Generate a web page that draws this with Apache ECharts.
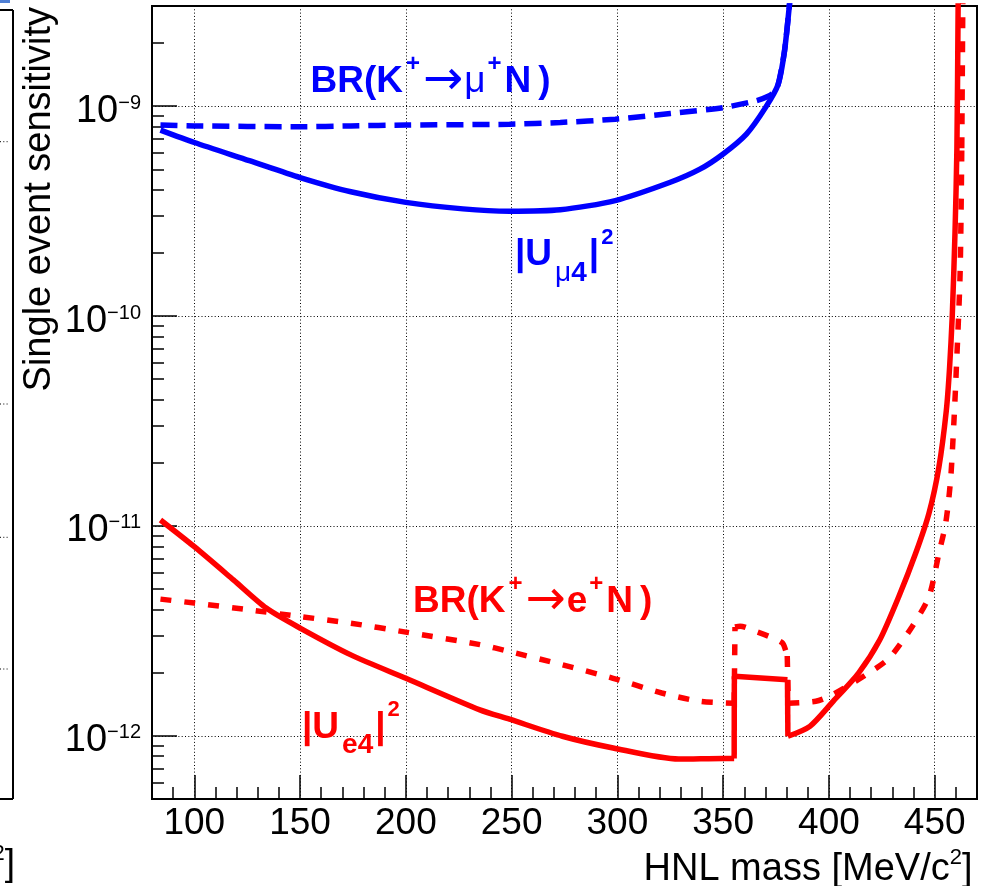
<!DOCTYPE html>
<html><head><meta charset="utf-8">
<script src="https://cdn.jsdelivr.net/npm/echarts@6/dist/echarts.min.js"></script>
<style>html,body{margin:0;padding:0;background:#fff}#c{width:981px;height:886px}</style>
</head><body><div id="c"></div>
<script>
// ---------- data (HNL mass in MeV/c^2, single event sensitivity) ----------
const muMassU = [84, 100, 126, 150, 174, 200, 227, 249, 273, 299, 325, 339, 350, 361, 370, 376, 379, 381.2, 382];
const muU     = [7.69e-10, 6.71e-10, 5.50e-10, 4.57e-10, 3.91e-10, 3.48e-10, 3.24e-10, 3.16e-10, 3.21e-10, 3.55e-10, 4.34e-10, 5.01e-10, 5.92e-10, 7.36e-10, 9.84e-10, 1.27e-9, 1.83e-9, 2.94e-9, 3.6e-9];

const muMassBR = [84, 100, 150, 174, 200, 249, 273, 299, 325, 350, 365.5, 371.8, 374, 376, 379, 381.2, 382];
const muBR     = [8.13e-10, 8.05e-10, 7.98e-10, 8.05e-10, 8.13e-10, 8.20e-10, 8.36e-10, 8.67e-10, 9.23e-10, 9.84e-10, 1.06e-9, 1.12e-9, 1.17e-9, 1.27e-9, 1.83e-9, 2.94e-9, 3.6e-9];

const eMassU = [84, 100, 118.5, 134, 150, 174, 200, 235, 249, 274, 298, 329, 350, 355.2, 355.3, 380.4, 380.6, 391, 402, 414, 424, 433, 441, 447.3, 452, 455.5, 457, 458.3, 459.6, 460.5, 461.1];
const eU     = [1.067e-11, 7.96e-12, 5.53e-12, 4.06e-12, 3.26e-12, 2.43e-12, 1.88e-12, 1.33e-12, 1.20e-12, 9.95e-13, 8.75e-13, 7.75e-13, 7.8e-13, 7.8e-13, 1.92e-12, 1.85e-12, 9.95e-13, 1.11e-12, 1.46e-12, 1.99e-12, 2.86e-12, 4.60e-12, 7.41e-12, 1.15e-11, 1.91e-11, 3.55e-11, 5.6e-11, 1.0e-10, 2.5e-10, 6.3e-10, 3.2e-9];

const eMassBR = [84, 100, 126, 150, 174, 200, 235, 249, 274, 298, 321, 339, 355.2, 355.6, 358, 365.5, 371.8, 378, 380.3, 380.8, 393.8, 401.7, 417.4, 428.4, 439.4, 447.3, 452, 455.2, 457.5, 459.1, 460, 462, 462.8, 463.3];
const eBR     = [4.48e-12, 4.29e-12, 3.98e-12, 3.70e-12, 3.44e-12, 3.12e-12, 2.72e-12, 2.52e-12, 2.18e-12, 1.88e-12, 1.60e-12, 1.46e-12, 1.43e-12, 3.3e-12, 3.33e-12, 3.14e-12, 2.97e-12, 2.77e-12, 2.40e-12, 1.43e-12, 1.46e-12, 1.57e-12, 1.95e-12, 2.34e-12, 3.32e-12, 4.60e-12, 7.41e-12, 1.03e-11, 1.65e-11, 3.16e-11, 4.94e-11, 1.58e-10, 6.3e-10, 3.2e-9];

const xTickLabels = [100, 150, 200, 250, 300, 350, 400, 450];
const yMin = 5e-13, yMax = 3e-9, xMin = 80, xMax = 470;

// ---------- chart ----------
const FONT = "'Liberation Sans', Arial, Helvetica, sans-serif";
const ARROW_FONT = "'DejaVu Sans', sans-serif";
const BLUE = '#0000ff', RED = '#ff0000';
const xMinor = []; for (let v = xMin; v <= xMax; v += 10) xMinor.push(v);
const yMinor = [];
for (let d = -13; d <= -9; d++) for (let k = 2; k <= 9; k++) yMinor.push(Math.log10(k) + d);
const lyMin = Math.log10(yMin), lyMax = Math.log10(yMax);

// split a curve into smooth pieces and straight vertical jumps (steps)
function pieces(xs, ys) {
  const out = []; let cur = [[xs[0], ys[0]]];
  for (let i = 1; i < xs.length; i++) {
    if (xs[i] - xs[i - 1] < 0.55) {
      out.push({smooth: true, data: cur});
      out.push({smooth: false, data: [[xs[i - 1], ys[i - 1]], [xs[i], ys[i]]]});
      cur = [[xs[i], ys[i]]];
    } else cur.push([xs[i], ys[i]]);
  }
  out.push({smooth: true, data: cur});
  return out.filter(p => p.data.length > 1);
}
function curveSeries(name, xs, ys, color, dash) {
  return pieces(xs, ys).map(p => ({
    type: 'line', name: name, xAxisIndex: 0, yAxisIndex: 0, data: p.data, symbol: 'none', clip: true,
    smooth: p.smooth ? 0.25 : false,
    lineStyle: {color: color, width: 5.5, type: dash || 'solid'}, itemStyle: {color: color}
  }));
}

function f(size, weight, color, extra) {
  return Object.assign({fontFamily: FONT, fontSize: size, fontWeight: weight || 'normal', fill: color}, extra || {});
}
function richText(x, y, text, color, size, align, lineH, rich, extra) {
  return {type: 'text', x: x, y: y, z: 100, style: Object.assign({
    text: text, fontFamily: FONT, fontSize: size, fontWeight: 'bold', fill: color,
    lineHeight: lineH, align: align || 'left', verticalAlign: 'middle', rich: rich
  }, extra || {})};
}
function brRich(color, lep) {
  return {
    p: f(24, 'bold', color, {verticalAlign: 'top', padding: [1, 2, 0, 3]}),
    q: f(24, 'bold', color, {verticalAlign: 'top', padding: [1, 3, 0, 2]}),
    a: {fontFamily: ARROW_FONT, fontSize: 48, fontWeight: 'normal', fill: color, lineHeight: 44, padding: [0, 1, 0, 1]},
    l: f(37, lep === 'mu' ? 'normal' : 'bold', color),
    r: f(37, 'bold', color, {padding: [0, 0, 0, 7]})
  };
}
function uRich(color) {
  return {
    b: f(28, 'normal', color, {verticalAlign: 'bottom', padding: [0, 0, 0, 3]}),
    c: f(28, 'bold', color, {verticalAlign: 'bottom'}),
    s: f(37, 'bold', color, {padding: [0, 0, 0, 2]}),
    p: f(22, 'bold', color, {verticalAlign: 'top', padding: [3.5, 0, 0, 2]})
  };
}

const chart = echarts.init(document.getElementById('c'));
chart.setOption({
  animation: false,
  backgroundColor: '#fff',
  grid: {left: 152, right: 4, top: 6, bottom: 87, show: true, borderColor: '#000', borderWidth: 2, backgroundColor: 'transparent'},
  xAxis: [{
    type: 'value', min: xMin, max: xMax, position: 'bottom',
    axisLine: {show: true, lineStyle: {color: '#000', width: 2}},
    axisTick: {show: true, inside: true, length: 24, lineStyle: {color: '#000', width: 1.5}, customValues: xTickLabels},
    axisLabel: {customValues: xTickLabels, fontFamily: FONT, fontSize: 37, color: '#000', margin: 5, lineHeight: 40},
    splitLine: {show: true, lineStyle: {color: '#000', width: 1, type: [1, 2.3]}}
  }, {
    type: 'value', min: xMin, max: xMax, position: 'bottom',
    axisLine: {show: false}, axisLabel: {show: false}, splitLine: {show: false},
    axisTick: {show: true, inside: true, length: 12, lineStyle: {color: '#000', width: 1.5}, customValues: xMinor}
  }],
  yAxis: [{
    type: 'log', min: yMin, max: yMax, position: 'left', logBase: 10,
    axisLine: {show: true, lineStyle: {color: '#000', width: 2}},
    axisTick: {show: true, inside: true, length: 25, lineStyle: {color: '#000', width: 1.5}},
    axisLabel: {
      showMinLabel: false, showMaxLabel: false, margin: 11,
      fontFamily: FONT, fontSize: 38, color: '#000', lineHeight: 44, padding: [10, 0, 0, 0],
      formatter: v => '10{e|\u2212' + Math.abs(Math.round(Math.log10(v))) + '}',
      rich: {e: {fontFamily: FONT, fontSize: 20, color: '#000', lineHeight: 27, verticalAlign: 'top', padding: [4, 0, 0, 0]}}
    },
    splitLine: {show: true, lineStyle: {color: '#000', width: 1, type: [1, 2.3]}}
  }, {
    type: 'value', min: lyMin, max: lyMax, position: 'left',
    axisLine: {show: false}, axisLabel: {show: false}, splitLine: {show: false},
    axisTick: {show: true, inside: true, length: 12, lineStyle: {color: '#000', width: 1.5}, customValues: yMinor}
  }],
  series: [].concat(
    curveSeries('|U_e4|^2', eMassU, eU, RED),
    curveSeries('BR(K+ -> e+ N)', eMassBR, eBR, RED, [11, 13]),
    curveSeries('|U_mu4|^2', muMassU, muU, BLUE),
    curveSeries('BR(K+ -> mu+ N)', muMassBR, muBR, BLUE, [17, 9])
  ),
  graphic: [
    // axis titles
    {type: 'text', x: 40, y: 7, rotation: Math.PI / 2, z: 100,
     style: {text: 'Single event sensitivity', fontFamily: FONT, fontSize: 38, fill: '#000', align: 'right', verticalAlign: 'middle'}},
    richText(972.5, 869.3, 'HNL mass [MeV/c{s|2}]', '#000', 38, 'right', 44,
      {s: f(22, 'normal', '#000', {verticalAlign: 'top'})}, {fontWeight: 'normal'}),
    // curve labels
    richText(310.5, 81.5, 'BR(K{p|+}{a|\u2192}{l|\u03bc}{q|+}N{r|)}', BLUE, 37, 'left', 60, brRich(BLUE, 'mu')),
    richText(413, 601.7, 'BR(K{p|+}{a|\u2192}{l|e}{q|+}N{r|)}', RED, 37, 'left', 60, brRich(RED, 'e')),
    richText(515, 255, '|U{b|\u03bc}{c|4}{s||}{p|2}', BLUE, 37, 'left', 64, uRich(BLUE)),
    richText(302, 727.5, '|U{b|e}{c|4}{s||}{p|2}', RED, 37, 'left', 64,
      Object.assign(uRich(RED), {b: f(28, 'bold', RED, {verticalAlign: 'bottom', padding: [0, 0, 0, 3]})})),
    // fragment of neighbouring panel on the left edge
    {type: 'line', shape: {x1: 13, y1: 10, x2: 13, y2: 799}, style: {stroke: '#000', lineWidth: 2}},
    {type: 'line', shape: {x1: 0, y1: 10, x2: 13, y2: 10}, style: {stroke: '#000', lineWidth: 2}},
    {type: 'line', shape: {x1: 0, y1: 799, x2: 13, y2: 799}, style: {stroke: '#000', lineWidth: 2}},
    {type: 'line', shape: {x1: 0, y1: 141.7, x2: 9, y2: 141.7}, style: {stroke: '#000', lineWidth: 1, lineDash: [1, 2.3]}},
    {type: 'line', shape: {x1: 0, y1: 404, x2: 9, y2: 404}, style: {stroke: '#000', lineWidth: 1, lineDash: [1, 2.3]}},
    {type: 'line', shape: {x1: 0, y1: 537.3, x2: 9, y2: 537.3}, style: {stroke: '#000', lineWidth: 1, lineDash: [1, 2.3]}},
    {type: 'line', shape: {x1: 0, y1: 669, x2: 9, y2: 669}, style: {stroke: '#000', lineWidth: 1, lineDash: [1, 2.3]}},
    {type: 'rect', shape: {x: 0, y: 0, width: 10, height: 3}, style: {fill: '#4f7fd4'}},
    richText(15, 865, '{s|2}]', '#000', 37, 'right', 44,
      {s: f(22, 'normal', '#000', {verticalAlign: 'top'})}, {fontWeight: 'normal'})
  ]
});
</script>
</body></html>
